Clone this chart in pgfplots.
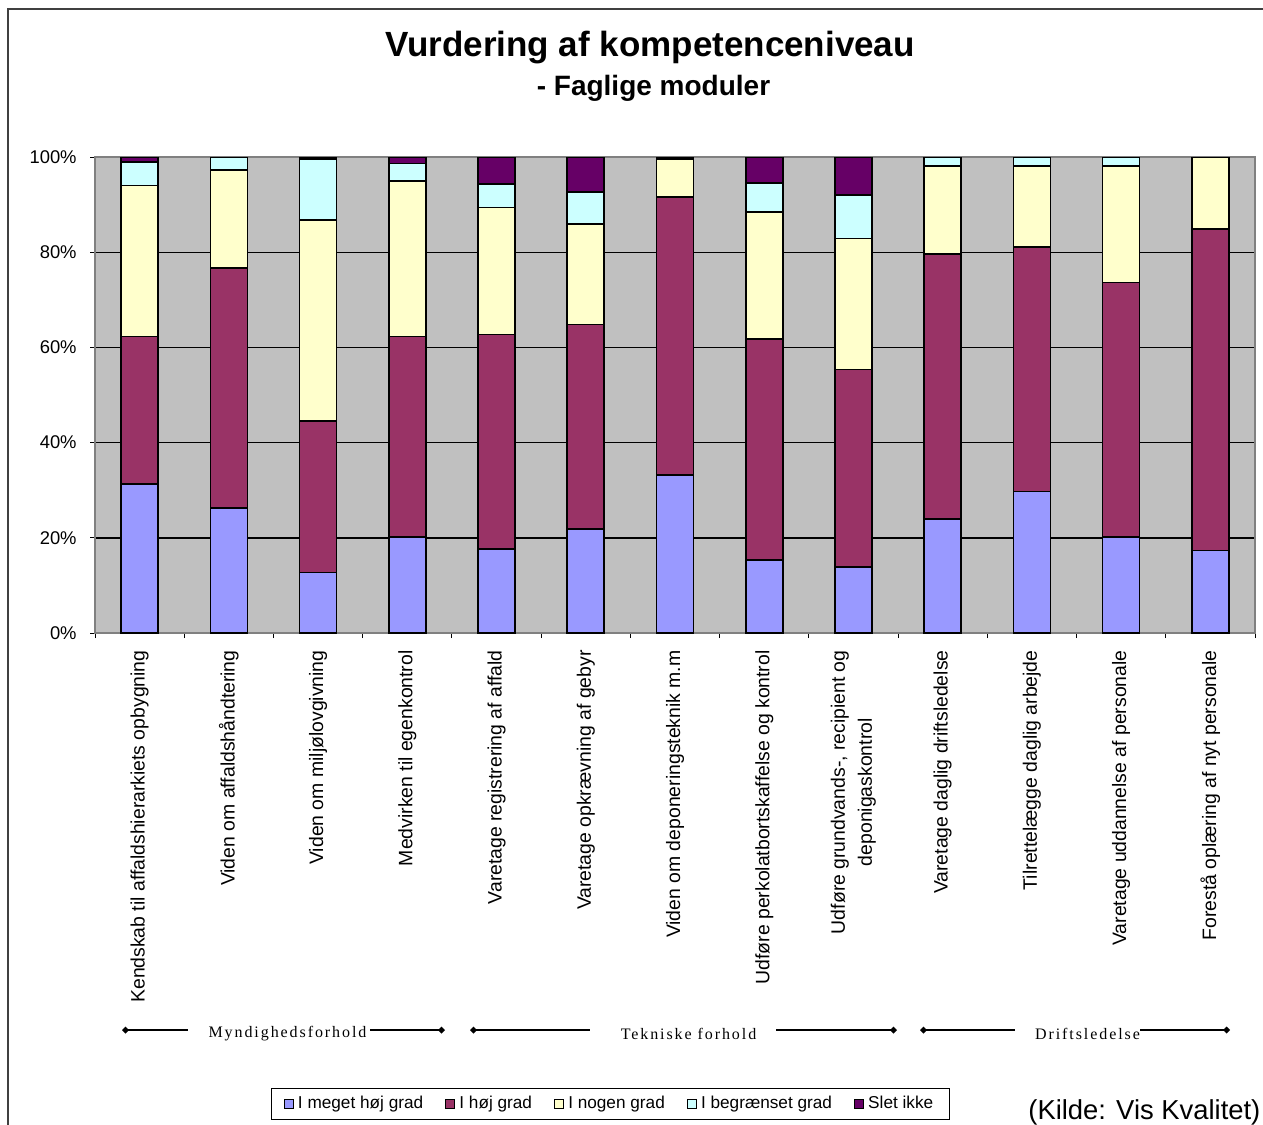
\documentclass[border=0pt]{standalone}
\usepackage{pgfplots}
\pgfplotsset{compat=1.18}
\usepackage{pgfplotstable}
\usetikzlibrary{arrows.meta}
\usepackage{fontspec}
\setmainfont{Liberation Sans}
\newfontfamily\tnr{Liberation Serif}[LetterSpace=12]

\definecolor{cblue}{HTML}{9999FF}
\definecolor{cred}{HTML}{993366}
\definecolor{cyel}{HTML}{FFFFCC}
\definecolor{ccyan}{HTML}{CCFFFF}
\definecolor{cpurp}{HTML}{660066}
\definecolor{plotgray}{HTML}{C0C0C0}

\pgfplotstableread{
x blue red yel cyan purp
0 31.3 31.0 31.7 5.0 1.0
1 26.3 50.4 20.6 2.7 0
2 12.7 31.8 42.3 12.8 0.4
3 20.2 42.1 32.7 3.6 1.4
4 17.6 45.1 26.7 4.9 5.7
5 21.8 43.0 21.1 6.8 7.3
6 33.2 58.4 8.0 0.2 0.2
7 15.4 46.4 26.6 6.2 5.4
8 13.9 41.5 27.5 9.1 8.0
9 24.0 55.6 18.5 1.9 0
10 29.7 51.4 17.0 1.9 0
11 20.2 53.4 24.5 1.9 0
12 17.3 67.6 15.1 0 0
}\data

\begin{document}
\begin{tikzpicture}
\useasboundingbox (0,0) rectangle (631.5pt,-562pt);
\draw[line width=1pt, draw=black!75] (4pt,-4.5pt) rectangle (640pt,-570pt);
\begin{axis}[
  at={(47.5pt,-316.5pt)}, anchor=south west,
  scale only axis, width=580pt, height=238pt,
  xmin=-0.5, xmax=12.5, ymin=0, ymax=100,
  ybar stacked, bar width=18.5pt,
  axis background/.style={fill=plotgray},
  axis line style={draw=gray, line width=1pt},
  ytick={0,20,...,100},
  yticklabels={0\%,20\%,40\%,60\%,80\%,100\%},
  ymajorgrids, grid style={black, line width=0.7pt},
  xtick={0,...,12},
  xticklabels={
    Kendskab til affaldshierarkiets opbygning,
    Viden om affaldshåndtering,
    Viden om miljølovgivning,
    Medvirken til egenkontrol,
    Varetage registrering af affald,
    Varetage opkrævning af gebyr,
    Viden om deponeringsteknik m.m,
    Udføre perkolatbortskaffelse og kontrol,
    {Udføre grundvands-, recipient og\\deponigaskontrol},
    Varetage daglig driftsledelse,
    Tilrettelægge daglig arbejde,
    Varetage uddannelse af personale,
    Forestå oplæring af nyt personale},
  major x tick style={draw=none},
  minor xtick={-0.5,0.5,...,12.5},
  minor x tick style={black, line width=0.5pt},
  major y tick style={black, line width=0.5pt},
  major tick length=2.5pt, minor tick length=2.5pt,
  tick align=outside, tick pos=left,
  xticklabel style={rotate=90, anchor=east, align=center, inner sep=0pt,
    font=\fontsize{9.7}{13.5}\selectfont},
  xticklabel shift=6pt,
  yticklabel style={anchor=east, inner sep=0pt, font=\fontsize{9.2}{11}\selectfont},
  yticklabel shift=6.5pt,
  legend style={at={(axis description cs:0.4444,-0.955)}, anchor=north,
    draw=black, line width=0.5pt, font=\fontsize{8.6}{10}\selectfont,
    inner xsep=6pt, inner ysep=2pt, legend cell align=left,
    /tikz/every even column/.append style={column sep=9pt}},
  legend columns=5,
  legend image code/.code={\draw[#1, draw=black, line width=0.5pt] (0pt,-2.3pt) rectangle (4.6pt,2.3pt);},
]
\addplot[fill=cblue, draw=black, line width=0.8pt] table[x=x,y=blue]{\data};
\addplot[fill=cred, draw=black, line width=0.8pt] table[x=x,y=red]{\data};
\addplot[fill=cyel, draw=black, line width=0.8pt] table[x=x,y=yel]{\data};
\addplot[fill=ccyan, draw=black, line width=0.8pt] table[x=x,y=cyan]{\data};
\addplot[fill=cpurp, draw=black, line width=0.8pt] table[x=x,y=purp]{\data};
\legend{I meget høj grad, I høj grad, I nogen grad, I begrænset grad, Slet ikke}
\end{axis}
\begin{scope}[x=0.5pt, y=-0.5pt]
  \node[font=\fontsize{17.5}{21}\selectfont\bfseries] at (650,48) {Vurdering af kompetenceniveau};
  \node[font=\fontsize{14}{17}\selectfont\bfseries] at (653.5,88) {- Faglige moduler};
  \draw[line width=0.9pt, {Diamond[length=3.5pt,width=3.5pt]}-] (122,1030) -- (188,1030);
  \draw[line width=0.9pt, -{Diamond[length=3.5pt,width=3.5pt]}] (370,1030) -- (445,1030);
  \draw[line width=0.9pt, {Diamond[length=3.5pt,width=3.5pt]}-] (470,1030) -- (590,1030);
  \draw[line width=0.9pt, -{Diamond[length=3.5pt,width=3.5pt]}] (776,1030) -- (897,1030);
  \draw[line width=0.9pt, {Diamond[length=3.5pt,width=3.5pt]}-] (920,1030) -- (1015,1030);
  \draw[line width=0.9pt, -{Diamond[length=3.5pt,width=3.5pt]}] (1140,1030) -- (1230,1030);
  \node[font=\tnr\fontsize{8}{9.5}\selectfont] at (287.5,1034) {Myndighedsforhold};
  \node[font=\tnr\fontsize{8}{9.5}\selectfont] at (688.5,1034) {Tekniske forhold};
  \node[font=\tnr\fontsize{8}{9.5}\selectfont] at (1087.5,1034) {Driftsledelse};
  \node[font=\fontsize{13.7}{16}\selectfont, anchor=base west, inner sep=0pt] at (1028,1119) {(Kilde: Vis Kvalitet)};
\end{scope}
\end{tikzpicture}
\end{document}
